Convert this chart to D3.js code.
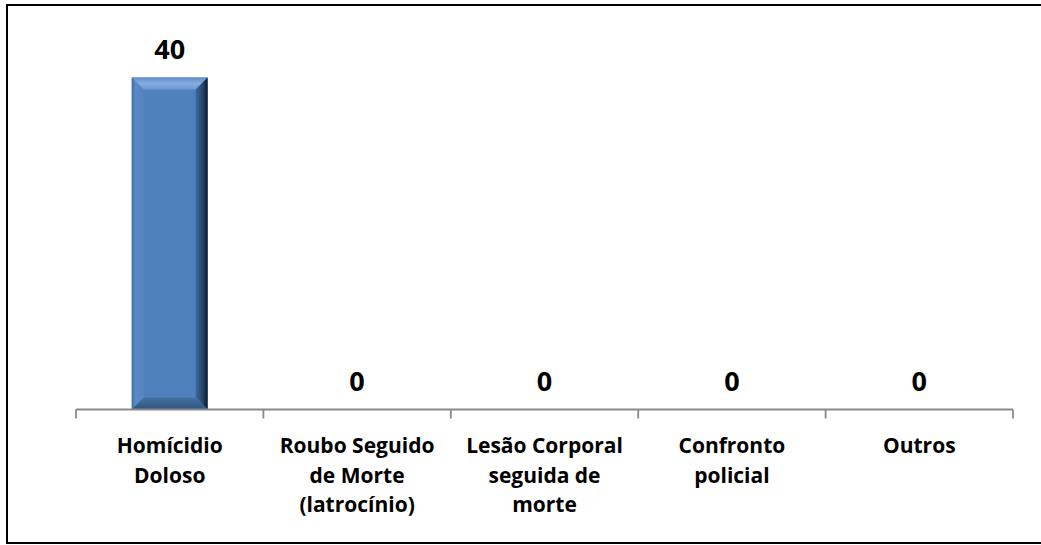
<!DOCTYPE html>
<html>
<head>
<meta charset="utf-8">
<script src="https://cdn.jsdelivr.net/npm/d3@7/dist/d3.min.js"></script>
<style>
  html, body { margin: 0; padding: 0; background: #fff; }
  svg { display: block; }
</style>
</head>
<body>
<svg id="chart" width="1041" height="545"></svg>
<script>
const categories = [
  ["Homícidio", "Doloso"],
  ["Roubo Seguido", "de Morte", "(latrocínio)"],
  ["Lesão Corporal", "seguida de", "morte"],
  ["Confronto", "policial"],
  ["Outros"]
];
const categoryKeys = ["Homícidio Doloso", "Roubo Seguido de Morte (latrocínio)", "Lesão Corporal seguida de morte", "Confronto policial", "Outros"];
const values = [40, 0, 0, 0, 0];

const svg = d3.select("#chart");
const W = 1041, H = 545;
const axisY = 409.5, plotTop = 77.5;
const left = 76, right = 1013;

// outer border
svg.append("rect")
  .attr("x", 7).attr("y", 5)
  .attr("width", 1040).attr("height", 538)
  .attr("fill", "none").attr("stroke", "#000").attr("stroke-width", 2);

const x = d3.scaleBand().domain(categoryKeys).range([left, right]).paddingInner(0.595).paddingOuter(0.2975);
const y = d3.scaleLinear().domain([0, 40]).range([axisY, plotTop]);

const defs = svg.append("defs");
function grad(id, x1, y1, x2, y2, stops) {
  const g = defs.append("linearGradient").attr("id", id)
    .attr("x1", x1).attr("y1", y1).attr("x2", x2).attr("y2", y2);
  stops.forEach(s => g.append("stop").attr("offset", s[0]).attr("stop-color", s[1]));
}
grad("gTop", 0, 0, 0, 1, [[0, "#5e8fcb"], [0.5, "#86ace0"], [1, "#6d99d3"]]);
grad("gLeft", 0, 0, 1, 0, [[0, "#3f6ea8"], [0.3, "#5a8ac6"], [1, "#5584c0"]]);
grad("gRight", 0, 0, 1, 0, [[0, "#3e6a9e"], [0.6, "#26456b"], [1, "#0c1828"]]);
grad("gBottom", 0, 0, 0, 1, [[0, "#44719f"], [1, "#2f5580"]]);

const bev = 12;
const bars = svg.append("g");
values.forEach((v, i) => {
  const k = categoryKeys[i];
  const x0 = x(k), x1 = x(k) + x.bandwidth();
  const y0 = y(v), y1 = y(0);
  if (y1 - y0 < 1) return;
  const g = bars.append("g");
  const b = Math.min(bev, (y1 - y0) / 2);
  g.append("rect").attr("x", x0).attr("y", y0).attr("width", x1 - x0).attr("height", y1 - y0).attr("fill", "#4f81bd");
  const poly = (pts, fill) => g.append("polygon").attr("points", pts.map(p => p.join(",")).join(" ")).attr("fill", fill);
  poly([[x0, y0], [x1, y0], [x1 - b, y0 + b], [x0 + b, y0 + b]], "url(#gTop)");
  poly([[x0, y0], [x0 + b, y0 + b], [x0 + b, y1 - b], [x0, y1]], "url(#gLeft)");
  poly([[x1, y0], [x1, y1], [x1 - b, y1 - b], [x1 - b, y0 + b]], "url(#gRight)");
  poly([[x0, y1], [x0 + b, y1 - b], [x1 - b, y1 - b], [x1, y1]], "url(#gBottom)");
});

// axis
const axisG = svg.append("g").attr("transform", `translate(0,${axisY})`);
axisG.append("line").attr("x1", left).attr("x2", right).attr("y1", 0).attr("y2", 0)
  .attr("stroke", "#898989").attr("stroke-width", 1.8);
const tickPos = categoryKeys.map(k => x(k) - x.step() * x.paddingInner() / 2);
tickPos.push(right);
tickPos.forEach(t => {
  axisG.append("line").attr("x1", t).attr("x2", t).attr("y1", 0).attr("y2", 9)
    .attr("stroke", "#898989").attr("stroke-width", 1.8);
});

// value labels
svg.append("g").selectAll("text").data(values).join("text")
  .attr("x", (d, i) => x(categoryKeys[i]) + x.bandwidth() / 2)
  .attr("y", d => y(d) - 19)
  .attr("text-anchor", "middle")
  .attr("font-family", "'Open Sans', sans-serif")
  .attr("font-weight", "bold")
  .attr("font-size", 27)
  .attr("fill", "#000")
  .text(d => d);

// category labels
const catG = svg.append("g");
categories.forEach((lines, i) => {
  const cx = x(categoryKeys[i]) + x.bandwidth() / 2;
  const t = catG.append("text")
    .attr("text-anchor", "middle")
    .attr("font-family", "'Open Sans', sans-serif")
    .attr("font-weight", "bold")
    .attr("font-size", 21)
    .attr("fill", "#000");
  lines.forEach((ln, j) => {
    t.append("tspan").attr("x", cx).attr("y", 453 + j * 29.7).text(ln);
  });
});
</script>
</body>
</html>
